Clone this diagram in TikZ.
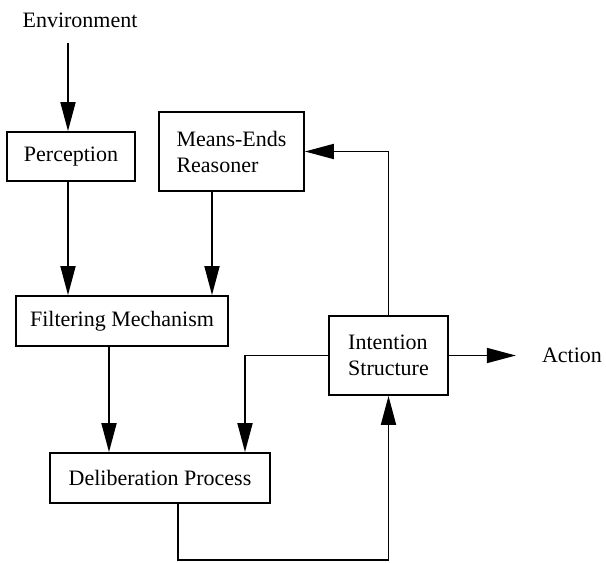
\documentclass[tikz,border=0pt]{standalone}
\usepackage{fontspec}
\setmainfont{Liberation Serif}
\usetikzlibrary{arrows.meta}

\begin{document}
\begin{tikzpicture}[>={Triangle[length=29pt,width=15pt]}, line width=1.8pt, x=1pt, y=-1pt,
        block/.style={draw, rectangle, inner sep=0pt, align=left}]
            \fontsize{22}{26}\selectfont
            \useasboundingbox (0,0) rectangle (606,563);
            \node (env) at (80,20) {Environment};
            \coordinate (envout) at (68,43);
            \node[block, minimum width=128, minimum height=49] (perc) at (71,156.5) {Perception};
            \node[block, minimum width=145, minimum height=79] (means) at (231.5,151.5) {Means-Ends\\Reasoner};
            \node[block, minimum width=212, minimum height=50] (filt) at (122,321) {Filtering Mechanism};
            \node[block, minimum width=119, minimum height=79] (inten) at (388.5,355.5) {Intention\\Structure};
            \node[block, minimum width=220, minimum height=50] (delib) at (160,478) {Deliberation Process};
            \node (act) at (572,355.5) {Action};
            \draw[->] (envout) -- (envout |- perc.north);
            \draw[->] ([xshift=-3pt]perc.south) -- ([xshift=-3pt]perc.south |- filt.north);
            \draw[->] ([xshift=-19.5pt]means.south) -- ([xshift=-19.5pt]means.south |- filt.north);
            \draw[->] ([xshift=-13pt]filt.south) -- ([xshift=-13pt]filt.south |- delib.north);
            \draw[->] (inten.west) -| ([xshift=85pt]delib.north);
            \draw[->] ([xshift=18pt]delib.south) -- ++(0,56) -| (inten.south);
            \draw[->] (inten.north) |- (means.east);
            \draw[->, shorten >=18pt] (inten.east) -- (inten.east -| act.west);
        \end{tikzpicture}
\end{document}
